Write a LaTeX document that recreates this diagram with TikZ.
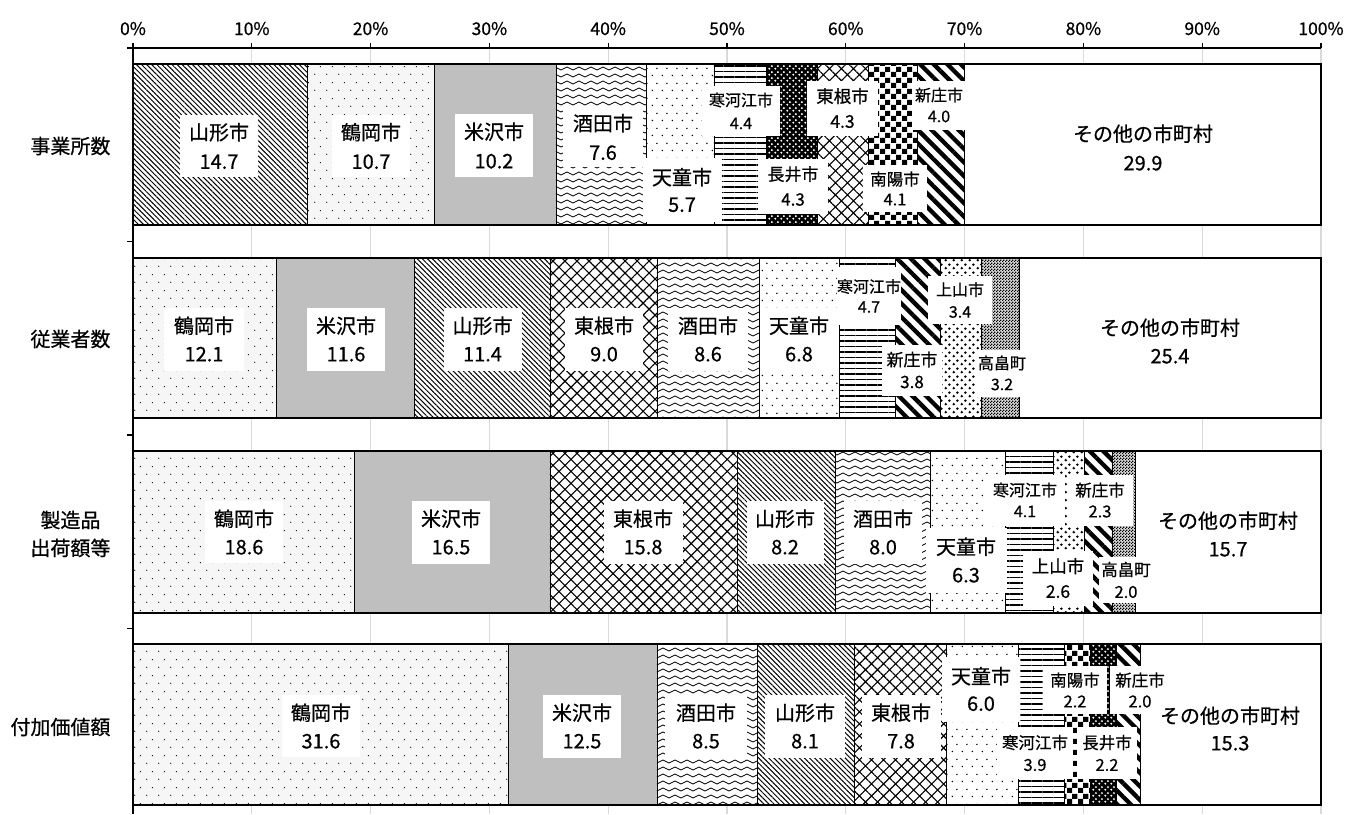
\documentclass[tikz,border=0pt]{standalone}
\usepackage{fontspec}
\setmainfont{Noto Sans CJK JP}[FakeBold=0.6]
\usetikzlibrary{patterns,patterns.meta}
\definecolor{ygray}{RGB}{191,191,191}
\definecolor{gridgray}{RGB}{217,217,217}

\pgfdeclarepattern{name=waves,type=uncolored,
  bottom left={\pgfpoint{-1pt}{-1pt}},top right={\pgfpoint{13pt}{8pt}},
  tile size={\pgfpoint{12pt}{7pt}},
  code={\pgfsetlinewidth{0.8pt}
    \pgfpathmoveto{\pgfpoint{0pt}{3.5pt}}
    \pgfpathcurveto{\pgfpoint{2pt}{5.5pt}}{\pgfpoint{4pt}{5.5pt}}{\pgfpoint{6pt}{3.5pt}}
    \pgfpathcurveto{\pgfpoint{8pt}{1.5pt}}{\pgfpoint{10pt}{1.5pt}}{\pgfpoint{12pt}{3.5pt}}
    \pgfusepath{stroke}}}
\pgfdeclarepattern{name=bigchecker,type=uncolored,
  bottom left={\pgfpoint{0pt}{0pt}},top right={\pgfpoint{11pt}{11pt}},
  tile size={\pgfpoint{11pt}{11pt}},
  code={\pgfpathrectangle{\pgfpoint{0pt}{0pt}}{\pgfpoint{5.5pt}{5.5pt}}
    \pgfpathrectangle{\pgfpoint{5.5pt}{5.5pt}}{\pgfpoint{5.5pt}{5.5pt}}
    \pgfusepath{fill}}}
\pgfdeclarepattern{name=finechecker,type=uncolored,
  bottom left={\pgfpoint{0pt}{0pt}},top right={\pgfpoint{3pt}{3pt}},
  tile size={\pgfpoint{3pt}{3pt}},
  code={\pgfpathrectangle{\pgfpoint{0pt}{0pt}}{\pgfpoint{1.5pt}{1.5pt}}
    \pgfpathrectangle{\pgfpoint{1.5pt}{1.5pt}}{\pgfpoint{1.5pt}{1.5pt}}
    \pgfusepath{fill}}}
\pgfdeclarepattern{name=sparsedots,type=uncolored,
  bottom left={\pgfpoint{0pt}{0pt}},top right={\pgfpoint{12pt}{16pt}},
  tile size={\pgfpoint{12pt}{16pt}},
  code={\pgfpathcircle{\pgfpoint{3pt}{4pt}}{0.65pt}
    \pgfpathcircle{\pgfpoint{9pt}{12pt}}{0.65pt}
    \pgfusepath{fill}}}
\pgfdeclarepattern{name=meddots,type=uncolored,
  bottom left={\pgfpoint{0pt}{0pt}},top right={\pgfpoint{10pt}{15pt}},
  tile size={\pgfpoint{10pt}{15pt}},
  code={\pgfpathcircle{\pgfpoint{2.5pt}{3.75pt}}{0.85pt}
    \pgfpathcircle{\pgfpoint{7.5pt}{11.25pt}}{0.85pt}
    \pgfusepath{fill}}}
\pgfdeclarepattern{name=confetti,type=uncolored,
  bottom left={\pgfpoint{0pt}{0pt}},top right={\pgfpoint{8pt}{8pt}},
  tile size={\pgfpoint{8pt}{8pt}},
  code={\pgfpathcircle{\pgfpoint{2pt}{2pt}}{1.5pt}
    \pgfpathcircle{\pgfpoint{6pt}{6pt}}{1.5pt}
    \pgfusepath{fill}}}
\pgfdeclarepattern{name=holes,type=uncolored,
  bottom left={\pgfpoint{0pt}{0pt}},top right={\pgfpoint{6pt}{6pt}},
  tile size={\pgfpoint{6pt}{6pt}},
  code={\pgfpathcircle{\pgfpoint{1.5pt}{1.5pt}}{1.25pt}
    \pgfpathcircle{\pgfpoint{4.5pt}{4.5pt}}{1.25pt}
    \pgfusepath{fill}}}

\tikzset{
  segline/.style={draw=black,line width=0.8pt},
  barline/.style={draw=black,line width=1.3pt},
  axisline/.style={draw=black,line width=1.3pt},
  gridline/.style={draw=gridgray,line width=1.3pt},
  pYam/.style={preaction={fill=white},pattern={Lines[angle=-45,distance=3.6pt,line width=1pt]}},
  pTsu/.style={preaction={fill=gray!7},pattern=sparsedots},
  pYon/.style={fill=ygray},
  pSak/.style={preaction={fill=white},pattern=waves},
  pTen/.style={preaction={fill=white},pattern=meddots},
  pSag/.style={preaction={fill=white},pattern={Lines[angle=0,distance=5.5pt,line width=1.8pt]}},
  pNag/.style={preaction={fill=black},pattern=holes,pattern color=white},
  pHig/.style={preaction={fill=white},pattern={Hatch[angle=45,distance=8.5pt,line width=1.1pt]}},
  pNan/.style={preaction={fill=white},pattern=bigchecker},
  pShi/.style={preaction={fill=white},pattern={Lines[angle=-45,distance=9.6pt,line width=4.3pt]}},
  pKam/.style={preaction={fill=white},pattern=confetti},
  pTak/.style={preaction={fill=gray!30},pattern=finechecker},
  pOth/.style={fill=white},
  lbox/.style={fill=white,inner sep=0pt,align=center,text=black},
  catlabel/.style={anchor=east,align=center,font=\fontsize{20}{28}\selectfont},
  pctlabel/.style={anchor=base,font=\fontsize{17.5}{20}\selectfont},
}
\newcommand\seg[5]{\path[segline,#1] ({133+#2*11.88},#4) rectangle ({133+#3*11.88},#5);}
\newcommand\lbl[9]{\node[lbox,minimum width=#4pt,minimum height=#5pt,font=\fontsize{#6}{#7}\selectfont] (#1) at (#2,#3) {#8\\#9};}

\begin{document}
\begin{tikzpicture}[x=1pt,y=-1pt]
\useasboundingbox[fill=white] (0,0) rectangle (1346,814);
% grid
\foreach \i in {1,...,10} \draw[gridline] ({133+\i*118.8},48) -- ({133+\i*118.8},814);
% axis
\draw[axisline] (127,48) -- (1321,48);
\draw[axisline] (133,43) -- (133,814);
\foreach \i in {0,...,10} {
  \draw[axisline] ({133+\i*118.8},43) -- ({133+\i*118.8},48);
  \node[pctlabel] (t\i) at ({133+\i*118.8},35) {\the\numexpr\i*10\relax\%};
}
\foreach \yy in {241.5,435,628.5} \draw[axisline] (127,\yy) -- (133,\yy);

% categories
\node[catlabel] (cat1) at (114,146) {事業所数};
\node[catlabel] (cat2) at (114,339) {従業者数};
\node[catlabel] (cat3) at (114,534) {製造品\\出荷額等};
\node[catlabel] (cat4) at (114,727) {付加価値額};

% bar 1
\seg{pYam}{0}{14.7}{64}{225}
\seg{pTsu}{14.7}{25.4}{64}{225}
\seg{pYon}{25.4}{35.6}{64}{225}
\seg{pSak}{35.6}{43.2}{64}{225}
\seg{pTen}{43.2}{48.9}{64}{225}
\seg{pSag}{48.9}{53.3}{64}{225}
\seg{pNag}{53.3}{57.6}{64}{225}
\seg{pHig}{57.6}{61.9}{64}{225}
\seg{pNan}{61.9}{66.0}{64}{225}
\seg{pShi}{66.0}{70.0}{64}{225}
\seg{pOth}{70.0}{100}{64}{225}
\draw[barline] (133,64) rectangle (1321,225);
% bar 2
\seg{pTsu}{0}{12.1}{258}{418}
\seg{pYon}{12.1}{23.7}{258}{418}
\seg{pYam}{23.7}{35.1}{258}{418}
\seg{pHig}{35.1}{44.1}{258}{418}
\seg{pSak}{44.1}{52.7}{258}{418}
\seg{pTen}{52.7}{59.5}{258}{418}
\seg{pSag}{59.5}{64.2}{258}{418}
\seg{pShi}{64.2}{68.0}{258}{418}
\seg{pKam}{68.0}{71.4}{258}{418}
\seg{pTak}{71.4}{74.6}{258}{418}
\seg{pOth}{74.6}{100}{258}{418}
\draw[barline] (133,258) rectangle (1321,418);
% bar 3
\seg{pTsu}{0}{18.6}{451}{613}
\seg{pYon}{18.6}{35.1}{451}{613}
\seg{pHig}{35.1}{50.9}{451}{613}
\seg{pYam}{50.9}{59.1}{451}{613}
\seg{pSak}{59.1}{67.1}{451}{613}
\seg{pTen}{67.1}{73.4}{451}{613}
\seg{pSag}{73.4}{77.5}{451}{613}
\seg{pKam}{77.5}{80.1}{451}{613}
\seg{pShi}{80.1}{82.4}{451}{613}
\seg{pTak}{82.4}{84.4}{451}{613}
\seg{pOth}{84.4}{100}{451}{613}
\draw[barline] (133,451) rectangle (1321,613);
% bar 4
\seg{pTsu}{0}{31.6}{644}{805}
\seg{pYon}{31.6}{44.1}{644}{805}
\seg{pSak}{44.1}{52.6}{644}{805}
\seg{pYam}{52.6}{60.7}{644}{805}
\seg{pHig}{60.7}{68.5}{644}{805}
\seg{pTen}{68.5}{74.5}{644}{805}
\seg{pSag}{74.5}{78.4}{644}{805}
\seg{pNan}{78.4}{80.6}{644}{805}
\seg{pNag}{80.6}{82.8}{644}{805}
\seg{pShi}{82.8}{84.8}{644}{805}
\seg{pOth}{84.8}{100}{644}{805}
\draw[barline] (133,644) rectangle (1321,805);

% labels bar 1
\lbl{a1}{219}{146}{78}{62}{20}{29}{山形市}{14.7}
\lbl{a2}{371}{146}{78}{62}{20}{29}{鶴岡市}{10.7}
\lbl{a3}{494}{145.5}{78}{63}{20}{29}{米沢市}{10.2}
\lbl{a4}{603}{137}{80}{60}{20}{29}{酒田市}{7.6}
\lbl{a5}{682}{190}{79}{64}{20}{27}{天童市}{5.7}
\lbl{a6}{741}{111}{78}{50}{16}{23}{寒河江市}{4.4}
\lbl{a7}{793}{186}{70}{55}{17}{25}{長井市}{4.3}
\lbl{a8}{842.5}{108}{71}{55}{17.5}{25}{東根市}{4.3}
\lbl{a9}{895}{188.5}{64}{47}{16.5}{20}{南陽市}{4.1}
\lbl{a10}{939}{105}{54}{49}{16}{21}{新庄市}{4.0}
\lbl{a11}{1143}{147.5}{0}{0}{20}{29}{その他の市町村}{29.9}
% labels bar 2
\lbl{b1}{204}{339}{80}{63}{20}{28}{鶴岡市}{12.1}
\lbl{b2}{346}{339}{78}{63}{20}{28}{米沢市}{11.6}
\lbl{b3}{482.5}{339}{78}{63}{20}{28}{山形市}{11.4}
\lbl{b4}{604}{339}{78}{63}{20}{28}{東根市}{9.0}
\lbl{b5}{708}{339}{80}{63}{20}{28}{酒田市}{8.6}
\lbl{b6}{799}{339}{78}{63}{20}{28}{天童市}{6.8}
\lbl{b7}{869}{296}{64}{58}{16}{20}{寒河江市}{4.7}
\lbl{b8}{912}{370}{60}{51}{17}{22}{新庄市}{3.8}
\lbl{b9}{960}{300}{64}{48}{16}{22}{上山市}{3.4}
\lbl{b10}{1002}{373}{53}{47}{16}{21}{高畠町}{3.2}
\lbl{b11}{1170}{341}{0}{0}{20}{28}{その他の市町村}{25.4}
% labels bar 3
\lbl{c1}{244}{532}{78}{62}{20}{28}{鶴岡市}{18.6}
\lbl{c2}{451}{532}{78}{63}{20}{28}{米沢市}{16.5}
\lbl{c3}{643}{532}{79}{63}{20}{28}{東根市}{15.8}
\lbl{c4}{785}{532}{77}{63}{20}{28}{山形市}{8.2}
\lbl{c5}{883}{532}{78}{63}{20}{28}{酒田市}{8.0}
\lbl{c6}{966}{560}{81}{65}{20}{28}{天童市}{6.3}
\lbl{c7}{1025}{500}{79}{51}{16}{21}{寒河江市}{4.1}
\lbl{c8}{1100}{500}{65}{51}{16.5}{21}{新庄市}{2.3}
\lbl{c9}{1058}{578}{70}{55}{17.5}{25}{上山市}{2.6}
\lbl{c10}{1126}{580}{55}{46}{16.5}{22}{高畠町}{2.0}
\lbl{c11}{1228}{534}{0}{0}{20}{28}{その他の市町村}{15.7}
% labels bar 4
\lbl{d1}{321}{726}{78}{62}{20}{28}{鶴岡市}{31.6}
\lbl{d2}{582}{726}{78}{63}{20}{28}{米沢市}{12.5}
\lbl{d3}{706}{726}{82}{63}{20}{28}{酒田市}{8.5}
\lbl{d4}{805}{726}{80}{63}{20}{28}{山形市}{8.1}
\lbl{d5}{901}{726}{79}{63}{20}{28}{東根市}{7.8}
\lbl{d6}{981}{689}{78}{65}{20}{27}{天童市}{6.0}
\lbl{d7}{1075}{690}{64}{48}{16.5}{21}{南陽市}{2.2}
\lbl{d8}{1140}{690}{60}{48}{16.5}{21}{新庄市}{2.0}
\lbl{d9}{1035}{753}{76}{52}{16.5}{22}{寒河江市}{3.9}
\lbl{d10}{1107}{753}{60}{52}{16.5}{22}{長井市}{2.2}
\lbl{d11}{1230}{728.5}{0}{0}{20}{27}{その他の市町村}{15.3}
\end{tikzpicture}
\end{document}
